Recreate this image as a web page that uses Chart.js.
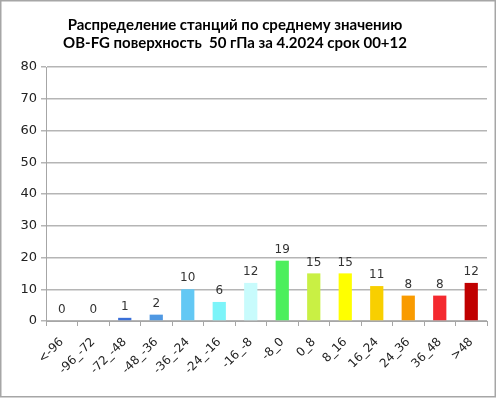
<!DOCTYPE html>
<html>
<head>
<meta charset="utf-8">
<script src="https://cdn.jsdelivr.net/npm/chart.js@4"></script>
<style>
html,body{margin:0;padding:0;background:#fff;}
#wrap{position:relative;width:496px;height:399px;}
</style>
</head>
<body>
<div id="wrap"><canvas id="c" width="496" height="399"></canvas></div>
<script>
const titleLines = ["Распределение станций по среднему значению", "OB-FG поверхность  50 гПа за 4.2024 срок 00+12"];
const categories = ["<-96","-96_-72","-72_-48","-48_-36","-36_-24","-24_-16","-16_-8","-8_0","0_8","8_16","16_24","24_36","36_48",">48"];
const counts = [0,0,1,2,10,6,12,19,15,15,11,8,8,12];
const barColors = ["#3a6fd8","#3a6fd8","#3a6fd8","#4f98e2","#63c8f4","#7cf4f9","#c8fbfc","#4cef5c","#c9f044","#ffff00","#f8cf00","#f99b00","#f4292f","#c00000"];
const yTicks = [0,10,20,30,40,50,60,70,80];

const decor = {
  id: 'decor',
  beforeDraw(chart) {
    const ctx = chart.ctx;
    ctx.save();
    ctx.fillStyle = '#fff';
    ctx.fillRect(0,0,chart.width,chart.height);
    ctx.strokeStyle = '#a6a6a6';
    ctx.lineWidth = 1.5;
    ctx.strokeRect(0.75,0.75,494.5,396);
    ctx.fillStyle = '#000';
    ctx.font = 'bold 15px Lato';
    ctx.textAlign = 'center';
    ctx.textBaseline = 'middle';
    ctx.fillText(titleLines[0], 235, 25);
    ctx.fillText(titleLines[1], 235, 43);
    ctx.restore();
  },
  afterDatasetsDraw(chart) {
    const ctx = chart.ctx;
    const meta = chart.getDatasetMeta(0);
    ctx.save();
    ctx.fillStyle = '#333';
    ctx.font = '12px "DejaVu Sans"';
    ctx.textAlign = 'center';
    ctx.textBaseline = 'middle';
    meta.data.forEach((bar, i) => {
      ctx.fillText(String(counts[i]), bar.x, bar.y - 11);
    });
    ctx.restore();
  }
};

new Chart(document.getElementById('c'), {
  type: 'bar',
  data: {
    labels: categories,
    datasets: [{
      data: counts,
      backgroundColor: barColors,
      borderWidth: 0,
      barPercentage: 0.42,
      categoryPercentage: 1.0
    }]
  },
  options: {
    responsive: false,
    animation: false,
    devicePixelRatio: 1,
    layout: { padding: { top: 67, right: 9, left: 0, bottom: 0 } },
    plugins: { legend: { display: false }, title: { display: false }, tooltip: { enabled: false } },
    scales: {
      x: {
        offset: true,
        grid: { offset: true, drawOnChartArea: false, drawTicks: true, tickLength: 5, color: '#a6a6a6' },
        border: { color: '#a6a6a6' },
        ticks: { color: '#222', font: { family: 'DejaVu Sans', size: 12 }, minRotation: 45, maxRotation: 45, padding: 9, autoSkip: false },
        afterFit(scale) { scale.height = 78; }
      },
      y: {
        min: 0, max: 80,
        afterBuildTicks(scale) { scale.ticks = yTicks.map(v => ({ value: v })); },
        grid: { color: '#b5b5b5', lineWidth: 1.5, drawTicks: true, tickLength: 5 },
        border: { color: '#a6a6a6' },
        ticks: { color: '#222', font: { family: 'DejaVu Sans', size: 13 }, padding: 4 },
        afterFit(scale) { scale.width = 46; }
      }
    }
  },
  plugins: [decor]
});
</script>
</body>
</html>
